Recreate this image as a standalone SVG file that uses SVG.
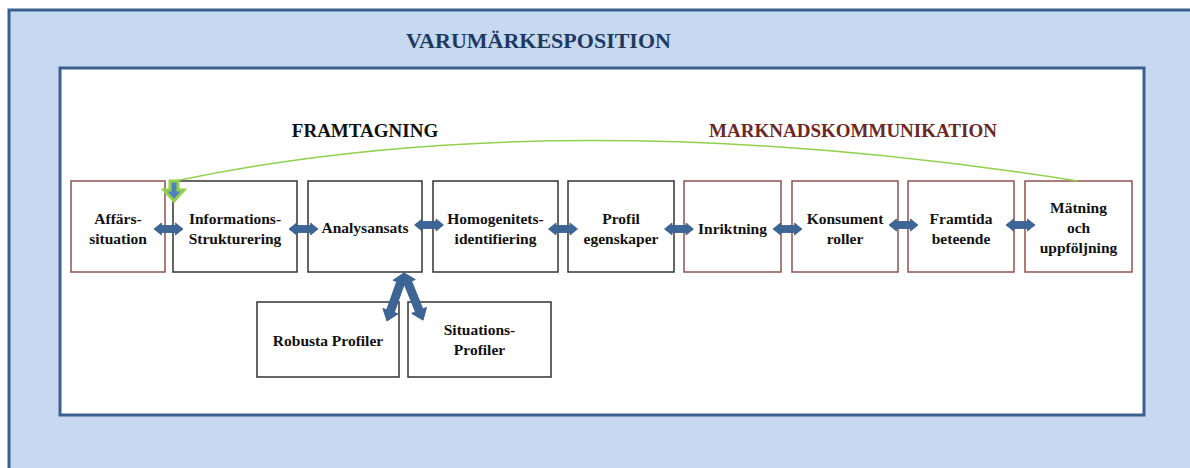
<svg xmlns="http://www.w3.org/2000/svg" xmlns:xlink="http://www.w3.org/1999/xlink" width="1190" height="468" viewBox="0 0 1190 468">
<style>
.frame{stroke:#3B6090;stroke-width:3}
.box{fill:#fff;stroke:#333;stroke-width:1.5}
.bbox{fill:#fff;stroke:#8E5252;stroke-width:1.5}
.lbl{font-family:"Liberation Serif","Times New Roman",serif;font-weight:bold;font-size:15.5px;fill:#111;text-anchor:middle}
.title{font-family:"Liberation Serif","Times New Roman",serif;font-weight:bold;text-anchor:middle}
.dar{fill:#3D6596;stroke:#365B89;stroke-width:0.8}
</style>
<defs>
<path id="dh" d="M-14.5,0 L-7,-6 L-7,-3.5 L7,-3.5 L7,-6 L14.5,0 L7,6 L7,3.5 L-7,3.5 L-7,6 Z"/>
<path id="dl" d="M-25.5,0 L-15,-8 L-15,-4 L15,-4 L15,-8 L25.5,0 L15,8 L15,4 L-15,4 L-15,8 Z"/>
</defs>
<g id="background">
<rect x="9" y="10" width="1200" height="470" fill="#C6D9F1" class="frame"/>
<rect x="60" y="68" width="1084" height="347" fill="#fff" class="frame"/>
<text x="538.5" y="48" class="title" font-size="22" fill="#1F3A60">VARUMÄRKESPOSITION</text>
<text x="365" y="137" class="title" font-size="19" fill="#111">FRAMTAGNING</text>
<text x="853" y="137" class="title" font-size="19" fill="#6B2828">MARKNADSKOMMUNIKATION</text>
</g>
<g id="n-affars"><rect x="71" y="181" width="94" height="91" class="bbox"/><text class="lbl" x="118" y="224">Affärs-</text><text class="lbl" x="118" y="244">situation</text></g>
<g id="n-info"><rect x="173" y="181" width="124" height="91" class="box"/><text class="lbl" x="235" y="224">Informations-</text><text class="lbl" x="235" y="244">Strukturering</text></g>
<g id="n-analys"><rect x="308" y="181" width="114" height="91" class="box"/><text class="lbl" x="365" y="233">Analysansats</text></g>
<g id="n-homog"><rect x="433" y="181" width="125" height="91" class="box"/><text class="lbl" x="495.5" y="224">Homogenitets-</text><text class="lbl" x="495.5" y="244">identifiering</text></g>
<g id="n-profil"><rect x="568" y="181" width="106" height="91" class="box"/><text class="lbl" x="621" y="224">Profil</text><text class="lbl" x="621" y="244">egenskaper</text></g>
<g id="n-inrikt"><rect x="684" y="181" width="97" height="91" class="bbox"/><text class="lbl" x="732.5" y="234">Inriktning</text></g>
<g id="n-konsument"><rect x="792" y="181" width="106" height="91" class="bbox"/><text class="lbl" x="845" y="224">Konsument</text><text class="lbl" x="845" y="244">roller</text></g>
<g id="n-framtida"><rect x="908" y="181" width="106" height="91" class="bbox"/><text class="lbl" x="961" y="224">Framtida</text><text class="lbl" x="961" y="244">beteende</text></g>
<g id="n-matning"><rect x="1025" y="181" width="107" height="91" class="bbox"/><text class="lbl" x="1078.5" y="213">Mätning</text><text class="lbl" x="1078.5" y="233">och</text><text class="lbl" x="1078.5" y="253">uppföljning</text></g>
<g id="n-robusta"><rect x="257" y="302" width="142" height="75" class="box"/><text class="lbl" x="328" y="346">Robusta Profiler</text></g>
<g id="n-situations"><rect x="408" y="302" width="143" height="75" class="box"/><text class="lbl" x="479.5" y="335">Situations-</text><text class="lbl" x="479.5" y="355">Profiler</text></g>
<g id="connectors">
<path d="M175,181 Q560,100 1078,181" fill="none" stroke="#92D050" stroke-width="1.5"/>
<path d="M170,181 L178,181 L178,190 L184,190 L174,201 L164,190 L170,190 Z" fill="#4F81BD" stroke="#92D050" stroke-width="3" stroke-linejoin="miter"/>
<use xlink:href="#dh" class="dar" transform="translate(168.5,229)"/>
<use xlink:href="#dh" class="dar" transform="translate(303.5,229)"/>
<use xlink:href="#dh" class="dar" transform="translate(429,225)"/>
<use xlink:href="#dh" class="dar" transform="translate(563,229)"/>
<use xlink:href="#dh" class="dar" transform="translate(679,229)"/>
<use xlink:href="#dh" class="dar" transform="translate(787.5,229)"/>
<use xlink:href="#dh" class="dar" transform="translate(903.5,225)"/>
<use xlink:href="#dh" class="dar" transform="translate(1020.5,225)"/>
<use xlink:href="#dl" class="dar" transform="translate(395.5,297) rotate(109.5)"/>
<use xlink:href="#dl" class="dar" transform="translate(413.5,296.5) rotate(68)"/>
</g>
</svg>
